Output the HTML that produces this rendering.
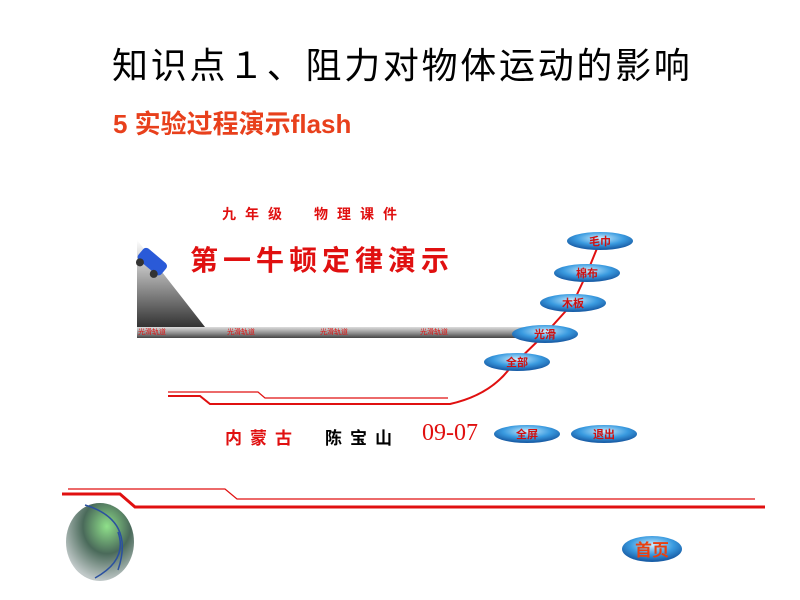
<!DOCTYPE html>
<html><head><meta charset="utf-8"><style>
body{margin:0;width:800px;height:600px;background:#fff;position:relative;overflow:hidden;font-family:"Liberation Sans","Noto Sans CJK SC",sans-serif}
.t{position:absolute;white-space:nowrap}
</style></head><body>
<div class="t" style="left:112px;top:37px;font-size:36px;color:#000;letter-spacing:2.7px">知识点１、阻力对物体运动的影响</div>
<div class="t" style="left:113px;top:104px;font-size:26px;color:#e8401c;font-weight:bold">5 实验过程演示flash</div>
<svg width="800" height="600" style="position:absolute;left:0;top:0">
<defs>
<linearGradient id="ramp" x1="0" y1="0" x2="0" y2="1"><stop offset="0" stop-color="#fff"/><stop offset="1" stop-color="#333"/></linearGradient>
<linearGradient id="trk" x1="0" y1="0" x2="0" y2="1"><stop offset="0" stop-color="#ddd"/><stop offset=".6" stop-color="#888"/><stop offset="1" stop-color="#444"/></linearGradient>
<radialGradient id="btn" cx=".5" cy=".35" r=".6"><stop offset="0" stop-color="#cdeeff"/><stop offset=".6" stop-color="#3a9be0"/><stop offset="1" stop-color="#1a5fa8"/></radialGradient>
<radialGradient id="gl" cx=".6" cy=".3" r=".7"><stop offset="0" stop-color="#8fe08a"/><stop offset=".5" stop-color="#4a6a5a"/><stop offset="1" stop-color="#c0c8c8"/></radialGradient>
</defs>
<polygon points="137,240 137,327 205,327" fill="url(#ramp)"/>
<rect x="137" y="327" width="390" height="11" fill="url(#trk)"/>
<g transform="translate(152,262) rotate(40)"><rect x="-15" y="-8" width="30" height="15" rx="4" fill="#2a5ad8"/><circle cx="-9" cy="8" r="4" fill="#333"/><circle cx="9" cy="8" r="4" fill="#333"/></g>
<g fill="none" stroke="#e01010">
<path d="M168,392 L258,392 L265,398 L448,398" stroke-width="1.2"/>
<path d="M168,396 L200,396 L210,404 L450,404 Q490,395 510,368 L545,334 L573,303 L587,273 L600,241" stroke-width="2"/>
<path d="M68,489 L225,489 L237,499 L755,499" stroke-width="1.2"/>
<path d="M62,494 L120,494 L135,507 L765,507" stroke-width="3"/>
</g>
<g font-size="11" font-weight="bold" fill="#d01010" text-anchor="middle">
<ellipse cx="600" cy="241" rx="33" ry="9" fill="url(#btn)"/><text x="600" y="245">毛巾</text>
<ellipse cx="587" cy="273" rx="33" ry="9" fill="url(#btn)"/><text x="587" y="277">棉布</text>
<ellipse cx="573" cy="303" rx="33" ry="9" fill="url(#btn)"/><text x="573" y="307">木板</text>
<ellipse cx="545" cy="334" rx="33" ry="9" fill="url(#btn)"/><text x="545" y="338">光滑</text>
<ellipse cx="517" cy="362" rx="33" ry="9" fill="url(#btn)"/><text x="517" y="366">全部</text>
<ellipse cx="527" cy="434" rx="33" ry="9" fill="url(#btn)"/><text x="527" y="438">全屏</text>
<ellipse cx="604" cy="434" rx="33" ry="9" fill="url(#btn)"/><text x="604" y="438">退出</text>
</g>
<g font-size="7" fill="#e01010"><text x="138" y="334">光滑轨道</text><text x="227" y="334">光滑轨道</text><text x="320" y="334">光滑轨道</text><text x="420" y="334">光滑轨道</text></g>
<ellipse cx="100" cy="542" rx="34" ry="39" fill="url(#gl)"/>
<path d="M85,505 Q135,520 118,570" fill="none" stroke="#2a50a0" stroke-width="1.5"/>
<path d="M118,532 Q128,560 95,578" fill="none" stroke="#2a50a0" stroke-width="1.5"/>
<ellipse cx="652" cy="549" rx="30" ry="13" fill="url(#btn)"/>
<text x="652" y="556" font-size="17" font-weight="bold" fill="#e84010" text-anchor="middle">首页</text>
</svg>
<div class="t" style="left:222px;top:204px;font-size:14px;font-weight:bold;color:#e01010;letter-spacing:9px">九年级　物理课件</div>
<div class="t" style="left:190px;top:239px;font-size:28px;font-weight:bold;color:#e01010;letter-spacing:5px">第一牛顿定律演示</div>
<div class="t" style="left:225px;top:424px;font-size:17px;font-weight:bold;color:#e01010;letter-spacing:8px">内蒙古</div>
<div class="t" style="left:325px;top:424px;font-size:17px;font-weight:bold;color:#000;letter-spacing:8px">陈宝山</div>
<div class="t" style="left:422px;top:420px;font-size:24px;color:#e01010;font-family:'Liberation Serif',serif">09-07</div>
</body></html>
